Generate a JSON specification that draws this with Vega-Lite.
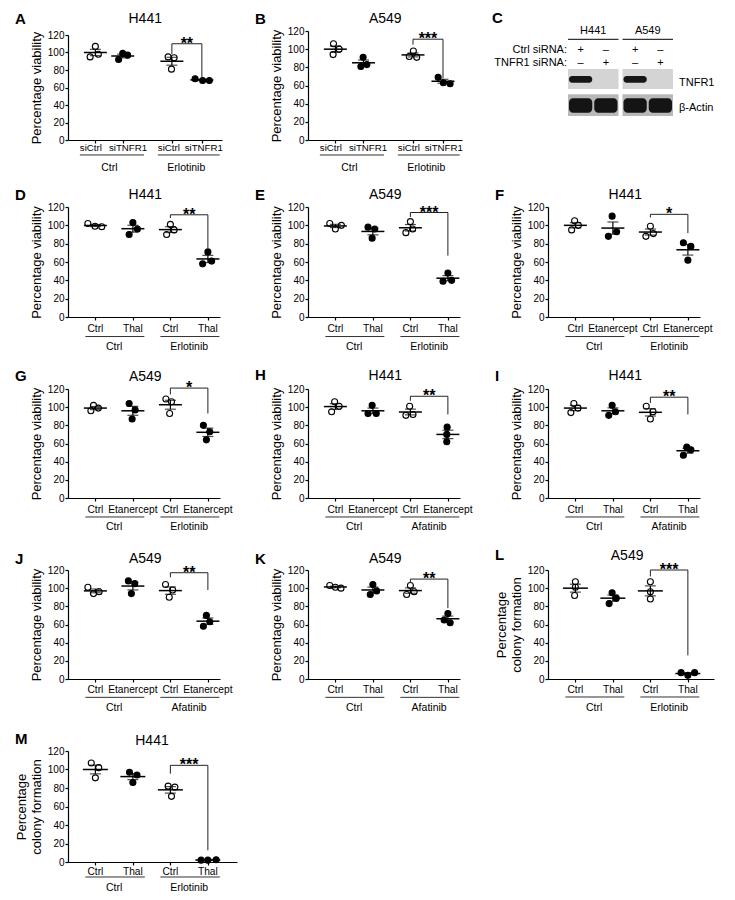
{
"$schema":"https://vega.github.io/schema/vega-lite/v6.json",
"background":"white",
"padding":{"left":15,"top":10,"right":5,"bottom":5},
"config":{
 "font":"Liberation Sans",
 "view":{"stroke":null},
 "axis":{"grid":false,"domainColor":"#000","domainWidth":1.2,"tickColor":"#000","tickWidth":1.2,"tickSize":3,"labelColor":"#000","labelFontSize":10,"labelPadding":1,"titleColor":"#000","titleFontSize":13,"titleFontWeight":"normal","titlePadding":4,"titleLineHeight":15},
 "text":{"fontSize":10.5,"color":"#000"}
},
"datasets":{
 "pts":[
  {"p":"A","pos":1,"a":"siCtrl","x":1.0,"v":107},{"p":"A","pos":1,"a":"siCtrl","x":0.86,"v":95},{"p":"A","pos":1,"a":"siCtrl","x":1.08,"v":98},
  {"p":"A","pos":1.73,"a":"siTNFR1","x":1.73,"v":99},{"p":"A","pos":1.73,"a":"siTNFR1","x":1.86,"v":97},{"p":"A","pos":1.73,"a":"siTNFR1","x":1.62,"v":92},
  {"p":"A","pos":3.04,"a":"siCtrl","x":2.94,"v":95},{"p":"A","pos":3.04,"a":"siCtrl","x":3.1,"v":94},{"p":"A","pos":3.04,"a":"siCtrl","x":3.03,"v":81},
  {"p":"A","pos":3.84,"a":"siTNFR1","x":3.66,"v":70},{"p":"A","pos":3.84,"a":"siTNFR1","x":3.86,"v":68},{"p":"A","pos":3.84,"a":"siTNFR1","x":4.04,"v":68},
  {"p":"B","pos":1,"a":"siCtrl","x":0.95,"v":106},{"p":"B","pos":1,"a":"siCtrl","x":1.1,"v":100},{"p":"B","pos":1,"a":"siCtrl","x":0.94,"v":94},
  {"p":"B","pos":1.75,"a":"siTNFR1","x":1.74,"v":91},{"p":"B","pos":1.75,"a":"siTNFR1","x":1.84,"v":83},{"p":"B","pos":1.75,"a":"siTNFR1","x":1.68,"v":81},
  {"p":"B","pos":3.07,"a":"siCtrl","x":3.08,"v":98},{"p":"B","pos":3.07,"a":"siCtrl","x":2.97,"v":92},{"p":"B","pos":3.07,"a":"siCtrl","x":3.17,"v":91},
  {"p":"B","pos":3.87,"a":"siTNFR1","x":3.74,"v":69},{"p":"B","pos":3.87,"a":"siTNFR1","x":3.88,"v":63},{"p":"B","pos":3.87,"a":"siTNFR1","x":4.06,"v":62},
  {"p":"D","pos":1,"a":"Ctrl","x":0.8,"v":102},{"p":"D","pos":1,"a":"Ctrl","x":0.99,"v":99},{"p":"D","pos":1,"a":"Ctrl","x":1.17,"v":98.5},
  {"p":"D","pos":2,"a":"Thal","x":2.0,"v":103},{"p":"D","pos":2,"a":"Thal","x":2.12,"v":96},{"p":"D","pos":2,"a":"Thal","x":1.9,"v":90},
  {"p":"D","pos":3,"a":"Ctrl","x":3.0,"v":101},{"p":"D","pos":3,"a":"Ctrl","x":2.9,"v":90},{"p":"D","pos":3,"a":"Ctrl","x":3.1,"v":95},
  {"p":"D","pos":4,"a":"Thal","x":4.0,"v":71},{"p":"D","pos":4,"a":"Thal","x":3.86,"v":58},{"p":"D","pos":4,"a":"Thal","x":4.1,"v":61},
  {"p":"E","pos":1,"a":"Ctrl","x":0.85,"v":102},{"p":"E","pos":1,"a":"Ctrl","x":1.0,"v":96},{"p":"E","pos":1,"a":"Ctrl","x":1.16,"v":100},
  {"p":"E","pos":2,"a":"Thal","x":1.87,"v":98},{"p":"E","pos":2,"a":"Thal","x":2.05,"v":96},{"p":"E","pos":2,"a":"Thal","x":1.98,"v":86},
  {"p":"E","pos":3,"a":"Ctrl","x":3.0,"v":104},{"p":"E","pos":3,"a":"Ctrl","x":2.88,"v":92},{"p":"E","pos":3,"a":"Ctrl","x":3.06,"v":96},
  {"p":"E","pos":4,"a":"Thal","x":4.0,"v":48},{"p":"E","pos":4,"a":"Thal","x":3.87,"v":39},{"p":"E","pos":4,"a":"Thal","x":4.1,"v":40},
  {"p":"F","pos":1,"a":"Ctrl","x":0.98,"v":105},{"p":"F","pos":1,"a":"Ctrl","x":0.9,"v":95},{"p":"F","pos":1,"a":"Ctrl","x":1.08,"v":100},
  {"p":"F","pos":2,"a":"Etanercept","x":1.98,"v":110},{"p":"F","pos":2,"a":"Etanercept","x":1.88,"v":88},{"p":"F","pos":2,"a":"Etanercept","x":2.1,"v":93},
  {"p":"F","pos":3,"a":"Ctrl","x":3.0,"v":99},{"p":"F","pos":3,"a":"Ctrl","x":2.88,"v":88},{"p":"F","pos":3,"a":"Ctrl","x":3.08,"v":91},
  {"p":"F","pos":4,"a":"Etanercept","x":3.88,"v":81},{"p":"F","pos":4,"a":"Etanercept","x":4.08,"v":77},{"p":"F","pos":4,"a":"Etanercept","x":4.0,"v":62},
  {"p":"G","pos":1,"a":"Ctrl","x":0.95,"v":102},{"p":"G","pos":1,"a":"Ctrl","x":1.08,"v":99},{"p":"G","pos":1,"a":"Ctrl","x":0.88,"v":96},
  {"p":"G","pos":2,"a":"Etanercept","x":1.9,"v":104},{"p":"G","pos":2,"a":"Etanercept","x":2.06,"v":97},{"p":"G","pos":2,"a":"Etanercept","x":1.98,"v":87},
  {"p":"G","pos":3,"a":"Ctrl","x":2.88,"v":109},{"p":"G","pos":3,"a":"Ctrl","x":3.03,"v":106},{"p":"G","pos":3,"a":"Ctrl","x":2.98,"v":93},
  {"p":"G","pos":4,"a":"Etanercept","x":3.88,"v":80},{"p":"G","pos":4,"a":"Etanercept","x":4.05,"v":73},{"p":"G","pos":4,"a":"Etanercept","x":3.96,"v":64},
  {"p":"H","pos":1,"a":"Ctrl","x":0.98,"v":106},{"p":"H","pos":1,"a":"Ctrl","x":1.1,"v":101},{"p":"H","pos":1,"a":"Ctrl","x":0.9,"v":95},
  {"p":"H","pos":2,"a":"Etanercept","x":1.98,"v":102},{"p":"H","pos":2,"a":"Etanercept","x":1.87,"v":93},{"p":"H","pos":2,"a":"Etanercept","x":2.09,"v":93},
  {"p":"H","pos":3,"a":"Ctrl","x":2.98,"v":101},{"p":"H","pos":3,"a":"Ctrl","x":2.88,"v":91},{"p":"H","pos":3,"a":"Ctrl","x":3.07,"v":92},
  {"p":"H","pos":4,"a":"Etanercept","x":3.98,"v":78},{"p":"H","pos":4,"a":"Etanercept","x":3.97,"v":70},{"p":"H","pos":4,"a":"Etanercept","x":3.97,"v":62},
  {"p":"I","pos":1,"a":"Ctrl","x":0.96,"v":104},{"p":"I","pos":1,"a":"Ctrl","x":0.88,"v":94},{"p":"I","pos":1,"a":"Ctrl","x":1.07,"v":99},
  {"p":"I","pos":2,"a":"Thal","x":1.98,"v":102},{"p":"I","pos":2,"a":"Thal","x":1.89,"v":91},{"p":"I","pos":2,"a":"Thal","x":2.07,"v":95},
  {"p":"I","pos":3,"a":"Ctrl","x":2.89,"v":101},{"p":"I","pos":3,"a":"Ctrl","x":3.0,"v":87},{"p":"I","pos":3,"a":"Ctrl","x":3.07,"v":95},
  {"p":"I","pos":4,"a":"Thal","x":3.97,"v":56},{"p":"I","pos":4,"a":"Thal","x":3.88,"v":47},{"p":"I","pos":4,"a":"Thal","x":4.08,"v":53},
  {"p":"J","pos":1,"a":"Ctrl","x":0.8,"v":101},{"p":"J","pos":1,"a":"Ctrl","x":0.95,"v":94},{"p":"J","pos":1,"a":"Ctrl","x":1.1,"v":96},
  {"p":"J","pos":2,"a":"Etanercept","x":1.88,"v":108},{"p":"J","pos":2,"a":"Etanercept","x":2.05,"v":105},{"p":"J","pos":2,"a":"Etanercept","x":1.96,"v":94},
  {"p":"J","pos":3,"a":"Ctrl","x":2.87,"v":104},{"p":"J","pos":3,"a":"Ctrl","x":3.06,"v":98},{"p":"J","pos":3,"a":"Ctrl","x":2.97,"v":90},
  {"p":"J","pos":4,"a":"Etanercept","x":3.96,"v":70},{"p":"J","pos":4,"a":"Etanercept","x":4.05,"v":63},{"p":"J","pos":4,"a":"Etanercept","x":3.88,"v":58},
  {"p":"K","pos":1,"a":"Ctrl","x":0.85,"v":103},{"p":"K","pos":1,"a":"Ctrl","x":1.0,"v":101},{"p":"K","pos":1,"a":"Ctrl","x":1.15,"v":100},
  {"p":"K","pos":2,"a":"Thal","x":2.0,"v":104},{"p":"K","pos":2,"a":"Thal","x":2.1,"v":97},{"p":"K","pos":2,"a":"Thal","x":1.93,"v":93},
  {"p":"K","pos":3,"a":"Ctrl","x":3.0,"v":103},{"p":"K","pos":3,"a":"Ctrl","x":3.1,"v":96},{"p":"K","pos":3,"a":"Ctrl","x":2.9,"v":93},
  {"p":"K","pos":4,"a":"Thal","x":4.0,"v":72},{"p":"K","pos":4,"a":"Thal","x":3.9,"v":65},{"p":"K","pos":4,"a":"Thal","x":4.06,"v":62},
  {"p":"L","pos":1,"a":"Ctrl","x":1.0,"v":107},{"p":"L","pos":1,"a":"Ctrl","x":1.0,"v":101},{"p":"L","pos":1,"a":"Ctrl","x":0.98,"v":92},
  {"p":"L","pos":2,"a":"Thal","x":1.98,"v":95},{"p":"L","pos":2,"a":"Thal","x":2.09,"v":89},{"p":"L","pos":2,"a":"Thal","x":1.9,"v":83},
  {"p":"L","pos":3,"a":"Ctrl","x":3.0,"v":107},{"p":"L","pos":3,"a":"Ctrl","x":3.0,"v":96},{"p":"L","pos":3,"a":"Ctrl","x":3.0,"v":88},
  {"p":"L","pos":4,"a":"Thal","x":3.82,"v":7},{"p":"L","pos":4,"a":"Thal","x":4.0,"v":4},{"p":"L","pos":4,"a":"Thal","x":4.18,"v":7},
  {"p":"M","pos":1,"a":"Ctrl","x":0.89,"v":107},{"p":"M","pos":1,"a":"Ctrl","x":1.09,"v":102},{"p":"M","pos":1,"a":"Ctrl","x":1.0,"v":91},
  {"p":"M","pos":2,"a":"Thal","x":1.91,"v":97},{"p":"M","pos":2,"a":"Thal","x":2.11,"v":94},{"p":"M","pos":2,"a":"Thal","x":2.0,"v":86},
  {"p":"M","pos":3,"a":"Ctrl","x":2.94,"v":82},{"p":"M","pos":3,"a":"Ctrl","x":3.12,"v":81},{"p":"M","pos":3,"a":"Ctrl","x":3.03,"v":71},
  {"p":"M","pos":4,"a":"Thal","x":3.82,"v":2},{"p":"M","pos":4,"a":"Thal","x":4.0,"v":2},{"p":"M","pos":4,"a":"Thal","x":4.22,"v":2.5}
 ],
 "cats":[
  {"p":"A","g":"Ctrl","a":"siCtrl","pos":0.88},{"p":"A","g":"Ctrl","a":"siTNFR1","pos":1.87},{"p":"A","g":"Erlotinib","a":"siCtrl","pos":2.96},{"p":"A","g":"Erlotinib","a":"siTNFR1","pos":3.89},
  {"p":"B","g":"Ctrl","a":"siCtrl","pos":0.88},{"p":"B","g":"Ctrl","a":"siTNFR1","pos":1.87},{"p":"B","g":"Erlotinib","a":"siCtrl","pos":2.96},{"p":"B","g":"Erlotinib","a":"siTNFR1","pos":3.89},
  {"p":"D","g":"Ctrl","a":"Ctrl","pos":1},{"p":"D","g":"Ctrl","a":"Thal","pos":2},{"p":"D","g":"Erlotinib","a":"Ctrl","pos":3},{"p":"D","g":"Erlotinib","a":"Thal","pos":4},
  {"p":"E","g":"Ctrl","a":"Ctrl","pos":1},{"p":"E","g":"Ctrl","a":"Thal","pos":2},{"p":"E","g":"Erlotinib","a":"Ctrl","pos":3},{"p":"E","g":"Erlotinib","a":"Thal","pos":4},
  {"p":"F","g":"Ctrl","a":"Ctrl","pos":1},{"p":"F","g":"Ctrl","a":"Etanercept","pos":2},{"p":"F","g":"Erlotinib","a":"Ctrl","pos":3},{"p":"F","g":"Erlotinib","a":"Etanercept","pos":4},
  {"p":"G","g":"Ctrl","a":"Ctrl","pos":1},{"p":"G","g":"Ctrl","a":"Etanercept","pos":2},{"p":"G","g":"Erlotinib","a":"Ctrl","pos":3},{"p":"G","g":"Erlotinib","a":"Etanercept","pos":4},
  {"p":"H","g":"Ctrl","a":"Ctrl","pos":1},{"p":"H","g":"Ctrl","a":"Etanercept","pos":2},{"p":"H","g":"Afatinib","a":"Ctrl","pos":3},{"p":"H","g":"Afatinib","a":"Etanercept","pos":4},
  {"p":"I","g":"Ctrl","a":"Ctrl","pos":1},{"p":"I","g":"Ctrl","a":"Thal","pos":2},{"p":"I","g":"Afatinib","a":"Ctrl","pos":3},{"p":"I","g":"Afatinib","a":"Thal","pos":4},
  {"p":"J","g":"Ctrl","a":"Ctrl","pos":1},{"p":"J","g":"Ctrl","a":"Etanercept","pos":2},{"p":"J","g":"Afatinib","a":"Ctrl","pos":3},{"p":"J","g":"Afatinib","a":"Etanercept","pos":4},
  {"p":"K","g":"Ctrl","a":"Ctrl","pos":1},{"p":"K","g":"Ctrl","a":"Thal","pos":2},{"p":"K","g":"Afatinib","a":"Ctrl","pos":3},{"p":"K","g":"Afatinib","a":"Thal","pos":4},
  {"p":"L","g":"Ctrl","a":"Ctrl","pos":1},{"p":"L","g":"Ctrl","a":"Thal","pos":2},{"p":"L","g":"Erlotinib","a":"Ctrl","pos":3},{"p":"L","g":"Erlotinib","a":"Thal","pos":4},
  {"p":"M","g":"Ctrl","a":"Ctrl","pos":1},{"p":"M","g":"Ctrl","a":"Thal","pos":2},{"p":"M","g":"Erlotinib","a":"Ctrl","pos":3},{"p":"M","g":"Erlotinib","a":"Thal","pos":4}
 ],
 "sig":[
  {"p":"A","x1":3.04,"x2":3.84,"top":110,"l":98,"r":70,"s":"**"},
  {"p":"B","x1":3.07,"x2":3.87,"top":111,"l":105,"r":68,"s":"***"},
  {"p":"D","x1":3,"x2":4,"top":111.5,"l":108,"r":75,"s":"**"},
  {"p":"E","x1":3,"x2":4,"top":114,"l":109,"r":67,"s":"***"},
  {"p":"F","x1":3,"x2":4,"top":112,"l":108.5,"r":91.5,"s":"*"},
  {"p":"G","x1":3,"x2":4,"top":121,"l":114,"r":93,"s":"*"},
  {"p":"H","x1":3,"x2":4,"top":112,"l":107,"r":92,"s":"**"},
  {"p":"I","x1":3,"x2":4,"top":111,"l":104.5,"r":92,"s":"**"},
  {"p":"J","x1":3,"x2":4,"top":117,"l":112,"r":98,"s":"**"},
  {"p":"K","x1":3,"x2":4,"top":110,"l":106,"r":78,"s":"**"},
  {"p":"L","x1":3,"x2":4,"top":120,"l":113,"r":26,"s":"***"},
  {"p":"M","x1":3,"x2":4,"top":104.5,"l":95.5,"r":12.6,"s":"***"}
 ],
 "lines":[{"line":"H441"},{"line":"A549"}],
 "bands":[
  {"line":"H441","si":"Ctrl","prot":"TNFR1","sig":1},{"line":"H441","si":"TNFR1","prot":"TNFR1","sig":0},
  {"line":"A549","si":"Ctrl","prot":"TNFR1","sig":1},{"line":"A549","si":"TNFR1","prot":"TNFR1","sig":0},
  {"line":"H441","si":"Ctrl","prot":"β-Actin","sig":1},{"line":"H441","si":"TNFR1","prot":"β-Actin","sig":1},
  {"line":"A549","si":"Ctrl","prot":"β-Actin","sig":1},{"line":"A549","si":"TNFR1","prot":"β-Actin","sig":1}
 ]
},
"spacing":13,
"vconcat":[
 {"hconcat":[
  {"width":154,"height":105,"resolve":{"axis":{"x":"independent","y":"independent"}},
   "layer":[
    {"data":{"name":"pts"},"transform":[{"filter":"datum.p==='A'"}],"mark":{"type":"point","shape":"circle","size":36,"stroke":"#000","strokeWidth":1.1,"opacity":1},
     "encoding":{"x":{"field":"x","type":"quantitative","scale":{"domain":[0.27,4.377],"nice":false,"zero":false},"axis":{"title":null,"labels":false,"values":[1,1.73,3.04,3.84]}},
      "y":{"field":"v","type":"quantitative","scale":{"domain":[0,120],"nice":false},"axis":{"title":"Percentage viability","values":[0,20,40,60,80,100,120]}},
      "fill":{"condition":{"test":"datum.a==='Ctrl'||datum.a==='siCtrl'","value":"#fff"},"value":"#000"}}},
    {"data":{"name":"pts"},"transform":[{"filter":"datum.p==='A'"}],"mark":{"type":"errorbar","extent":"stderr","orient":"vertical","color":"#000","ticks":{"size":11,"thickness":1.2},"rule":{"strokeWidth":1.2}},
     "encoding":{"x":{"field":"pos","type":"quantitative","axis":null},"y":{"field":"v","type":"quantitative","axis":null}}},
    {"data":{"name":"pts"},"transform":[{"filter":"datum.p==='A'"}],"mark":{"type":"tick","orient":"horizontal","size":23,"thickness":1.5,"color":"#000"},
     "encoding":{"x":{"field":"pos","type":"quantitative","axis":null},"y":{"aggregate":"mean","field":"v","type":"quantitative","axis":null}}},
    {"data":{"name":"sig"},"transform":[{"filter":"datum.p==='A'"}],"mark":{"type":"rule","color":"#222","strokeWidth":1},
     "encoding":{"x":{"field":"x1","type":"quantitative","axis":null},"x2":{"field":"x2"},"y":{"field":"top","type":"quantitative","axis":null}}},
    {"data":{"name":"sig"},"transform":[{"filter":"datum.p==='A'"}],"mark":{"type":"rule","color":"#222","strokeWidth":1},
     "encoding":{"x":{"field":"x1","type":"quantitative","axis":null},"y":{"field":"top","type":"quantitative","axis":null},"y2":{"field":"l"}}},
    {"data":{"name":"sig"},"transform":[{"filter":"datum.p==='A'"}],"mark":{"type":"rule","color":"#222","strokeWidth":1},
     "encoding":{"x":{"field":"x2","type":"quantitative","axis":null},"y":{"field":"top","type":"quantitative","axis":null},"y2":{"field":"r"}}},
    {"data":{"name":"sig"},"transform":[{"filter":"datum.p==='A'"}],"mark":{"type":"text","fontSize":16,"fontWeight":"bold","baseline":"alphabetic","dx":15,"dy":5},
     "encoding":{"x":{"field":"x1","type":"quantitative","axis":null},"y":{"field":"top","type":"quantitative","axis":null},"text":{"field":"s"}}},
    {"data":{"name":"cats"},"transform":[{"filter":"datum.p==='A'"}],"mark":{"type":"text","baseline":"alphabetic","dy":10.7,"fontSize":9.7},
     "encoding":{"x":{"field":"pos","type":"quantitative","axis":null},"y":{"datum":0,"axis":null},"text":{"field":"a"}}},
    {"data":{"name":"cats"},"transform":[{"filter":"datum.p==='A'"}],"mark":{"type":"rule","color":"#333","strokeWidth":1,"xOffset":-11,"x2Offset":16},
     "encoding":{"x":{"aggregate":"min","field":"pos","type":"quantitative","axis":null},"x2":{"aggregate":"max","field":"pos"},"y":{"datum":-17.1,"axis":null},"detail":{"field":"g"}}},
    {"data":{"name":"cats"},"transform":[{"filter":"datum.p==='A'"}],"mark":{"type":"text","baseline":"alphabetic","dy":31.4},
     "encoding":{"x":{"aggregate":"mean","field":"pos","type":"quantitative","axis":null},"y":{"datum":0,"axis":null},"text":{"field":"g"}}},
    {"data":{"values":[{"letter":"A"}]},"mark":{"type":"text","fontSize":15,"fontWeight":"bold","align":"left","baseline":"alphabetic","dx":-53,"dy":-10.7},
     "encoding":{"x":{"datum":0.27,"axis":null},"y":{"datum":120,"axis":null},"text":{"field":"letter"}}},
    {"data":{"values":[{"t":"H441"}]},"mark":{"type":"text","fontSize":14,"baseline":"alphabetic","dy":-12.3},
     "encoding":{"x":{"datum":2.33,"axis":null},"y":{"datum":120,"axis":null},"text":{"field":"t"}}}
   ]},
  {"width":154,"height":105,"resolve":{"axis":{"x":"independent","y":"independent"}},
   "layer":[
    {"data":{"name":"pts"},"transform":[{"filter":"datum.p==='B'"}],"mark":{"type":"point","shape":"circle","size":36,"stroke":"#000","strokeWidth":1.1,"opacity":1},
     "encoding":{"x":{"field":"x","type":"quantitative","scale":{"domain":[0.27,4.377],"nice":false,"zero":false},"axis":{"title":null,"labels":false,"values":[1,1.75,3.07,3.87]}},
      "y":{"field":"v","type":"quantitative","scale":{"domain":[0,120],"nice":false,"range":[105,-4]},"axis":{"title":"Percentage viability","values":[0,20,40,60,80,100,120]}},
      "fill":{"condition":{"test":"datum.a==='Ctrl'||datum.a==='siCtrl'","value":"#fff"},"value":"#000"}}},
    {"data":{"name":"pts"},"transform":[{"filter":"datum.p==='B'"}],"mark":{"type":"errorbar","extent":"stderr","orient":"vertical","color":"#000","ticks":{"size":11,"thickness":1.2},"rule":{"strokeWidth":1.2}},
     "encoding":{"x":{"field":"pos","type":"quantitative","axis":null},"y":{"field":"v","type":"quantitative","axis":null}}},
    {"data":{"name":"pts"},"transform":[{"filter":"datum.p==='B'"}],"mark":{"type":"tick","orient":"horizontal","size":23,"thickness":1.5,"color":"#000"},
     "encoding":{"x":{"field":"pos","type":"quantitative","axis":null},"y":{"aggregate":"mean","field":"v","type":"quantitative","axis":null}}},
    {"data":{"name":"sig"},"transform":[{"filter":"datum.p==='B'"}],"mark":{"type":"rule","color":"#222","strokeWidth":1},
     "encoding":{"x":{"field":"x1","type":"quantitative","axis":null},"x2":{"field":"x2"},"y":{"field":"top","type":"quantitative","axis":null}}},
    {"data":{"name":"sig"},"transform":[{"filter":"datum.p==='B'"}],"mark":{"type":"rule","color":"#222","strokeWidth":1},
     "encoding":{"x":{"field":"x1","type":"quantitative","axis":null},"y":{"field":"top","type":"quantitative","axis":null},"y2":{"field":"l"}}},
    {"data":{"name":"sig"},"transform":[{"filter":"datum.p==='B'"}],"mark":{"type":"rule","color":"#222","strokeWidth":1},
     "encoding":{"x":{"field":"x2","type":"quantitative","axis":null},"y":{"field":"top","type":"quantitative","axis":null},"y2":{"field":"r"}}},
    {"data":{"name":"sig"},"transform":[{"filter":"datum.p==='B'"}],"mark":{"type":"text","fontSize":16,"fontWeight":"bold","baseline":"alphabetic","dx":15,"dy":5},
     "encoding":{"x":{"field":"x1","type":"quantitative","axis":null},"y":{"field":"top","type":"quantitative","axis":null},"text":{"field":"s"}}},
    {"data":{"name":"cats"},"transform":[{"filter":"datum.p==='B'"}],"mark":{"type":"text","baseline":"alphabetic","dy":10.7,"fontSize":9.7},
     "encoding":{"x":{"field":"pos","type":"quantitative","axis":null},"y":{"datum":0,"axis":null},"text":{"field":"a"}}},
    {"data":{"name":"cats"},"transform":[{"filter":"datum.p==='B'"}],"mark":{"type":"rule","color":"#333","strokeWidth":1,"xOffset":-11,"x2Offset":16},
     "encoding":{"x":{"aggregate":"min","field":"pos","type":"quantitative","axis":null},"x2":{"aggregate":"max","field":"pos"},"y":{"datum":-16.5,"axis":null},"detail":{"field":"g"}}},
    {"data":{"name":"cats"},"transform":[{"filter":"datum.p==='B'"}],"mark":{"type":"text","baseline":"alphabetic","dy":31.4},
     "encoding":{"x":{"aggregate":"mean","field":"pos","type":"quantitative","axis":null},"y":{"datum":0,"axis":null},"text":{"field":"g"}}},
    {"data":{"values":[{"letter":"B"}]},"mark":{"type":"text","fontSize":15,"fontWeight":"bold","align":"left","baseline":"alphabetic","dx":-53,"dy":-7.3},
     "encoding":{"x":{"datum":0.27,"axis":null},"y":{"datum":120,"axis":null},"text":{"field":"letter"}}},
    {"data":{"values":[{"t":"A549"}]},"mark":{"type":"text","fontSize":14,"baseline":"alphabetic","dy":-8.3},
     "encoding":{"x":{"datum":2.33,"axis":null},"y":{"datum":120,"axis":null},"text":{"field":"t"}}}
   ]},
  {"width":125,"height":105,
   "layer":[
    {"data":{"name":"lines"},"mark":{"type":"rect","color":"#d4d4d4"},
     "encoding":{"x":{"field":"line","type":"nominal","scale":{"type":"band","domain":["H441","A549"],"range":[20,125],"paddingInner":0.073,"paddingOuter":0},"axis":null},
      "y":{"datum":3.4,"scale":{"domain":[0,10.5],"reverse":true,"nice":false,"zero":false},"axis":null},"y2":{"datum":5.4}}},
    {"data":{"name":"lines"},"mark":{"type":"rect","color":"#b8b8b8"},
     "encoding":{"x":{"field":"line","type":"nominal","axis":null},"y":{"datum":5.93,"axis":null},"y2":{"datum":8.1}}},
    {"data":{"name":"lines"},"mark":{"type":"rect","color":"#333"},
     "encoding":{"x":{"field":"line","type":"nominal","axis":null},"y":{"datum":0.37,"axis":null},"y2":{"datum":0.49}}},
    {"data":{"name":"lines"},"mark":{"type":"text","fontSize":11,"baseline":"alphabetic"},
     "encoding":{"x":{"field":"line","type":"nominal","axis":null},"y":{"datum":-0.07,"axis":null},"text":{"field":"line"}}},
    {"data":{"name":"bands"},"transform":[{"filter":"datum.prot==='TNFR1'"}],"mark":{"type":"rect","color":"#161616","cornerRadius":3},
     "encoding":{"x":{"field":"line","type":"nominal","axis":null},"xOffset":{"field":"si","type":"nominal","scale":{"domain":["Ctrl","TNFR1"],"paddingInner":0.08,"paddingOuter":0.04}},
      "y":{"datum":4.1,"axis":null},"y2":{"datum":4.77},"opacity":{"field":"sig","type":"quantitative","scale":{"domain":[0,1],"range":[0,1]},"legend":null}}},
    {"data":{"name":"bands"},"transform":[{"filter":"datum.prot==='β-Actin'"}],"mark":{"type":"rect","color":"#141414","cornerRadius":4},
     "encoding":{"x":{"field":"line","type":"nominal","axis":null},"xOffset":{"field":"si","type":"nominal"},
      "y":{"datum":6.33,"axis":null},"y2":{"datum":7.77},"opacity":{"field":"sig","type":"quantitative","legend":null}}},
    {"data":{"name":"bands"},"transform":[{"filter":"datum.prot==='TNFR1'"}],"mark":{"type":"text","fontSize":11,"baseline":"alphabetic"},
     "encoding":{"x":{"field":"line","type":"nominal","axis":null},"xOffset":{"field":"si","type":"nominal"},"y":{"datum":1.77,"axis":null},
      "text":{"condition":{"test":"datum.si==='Ctrl'","value":"+"},"value":"–"}}},
    {"data":{"name":"bands"},"transform":[{"filter":"datum.prot==='TNFR1'"}],"mark":{"type":"text","fontSize":11,"baseline":"alphabetic"},
     "encoding":{"x":{"field":"line","type":"nominal","axis":null},"xOffset":{"field":"si","type":"nominal"},"y":{"datum":3.1,"axis":null},
      "text":{"condition":{"test":"datum.si==='TNFR1'","value":"+"},"value":"–"}}},
    {"data":{"values":[{"t":"Ctrl siRNA:"}]},"mark":{"type":"text","fontSize":11,"align":"right","baseline":"alphabetic","dx":-1},
     "encoding":{"x":{"datum":"H441","type":"nominal","bandPosition":0,"axis":null},"y":{"datum":1.77,"axis":null},"text":{"field":"t"}}},
    {"data":{"values":[{"t":"TNFR1 siRNA:"}]},"mark":{"type":"text","fontSize":11,"align":"right","baseline":"alphabetic","dx":-1},
     "encoding":{"x":{"datum":"H441","type":"nominal","bandPosition":0,"axis":null},"y":{"datum":3.1,"axis":null},"text":{"field":"t"}}},
    {"data":{"values":[{"t":"TNFR1"}]},"mark":{"type":"text","fontSize":11,"align":"left","baseline":"alphabetic","dx":6},
     "encoding":{"x":{"datum":"A549","type":"nominal","bandPosition":1,"axis":null},"y":{"datum":5.1,"axis":null},"text":{"field":"t"}}},
    {"data":{"values":[{"t":"β-Actin"}]},"mark":{"type":"text","fontSize":11,"align":"left","baseline":"alphabetic","dx":6},
     "encoding":{"x":{"datum":"A549","type":"nominal","bandPosition":1,"axis":null},"y":{"datum":7.6,"axis":null},"text":{"field":"t"}}},
    {"data":{"values":[{"letter":"C"}]},"mark":{"type":"text","fontSize":15,"fontWeight":"bold","align":"left","baseline":"alphabetic","dx":-76},
     "encoding":{"x":{"datum":"H441","type":"nominal","bandPosition":0,"axis":null},"y":{"datum":-1.23,"axis":null},"text":{"field":"letter"}}}
   ]}
 ],"spacing":86,"bounds":"flush"},
 {"concat":[
  {"width":152,"height":110,"resolve":{"axis":{"x":"independent","y":"independent"}},
   "layer":[
    {"data":{"name":"pts"},"transform":[{"filter":"datum.p==='D'"}],"mark":{"type":"point","shape":"circle","size":36,"stroke":"#000","strokeWidth":1.1,"opacity":1},
     "encoding":{"x":{"field":"x","type":"quantitative","scale":{"domain":[0.27,4.323],"nice":false,"zero":false},"axis":{"title":null,"labels":false,"values":[1,2,3,4]}},
      "y":{"field":"v","type":"quantitative","scale":{"domain":[0,120],"nice":false},"axis":{"title":"Percentage viability","values":[0,20,40,60,80,100,120]}},
      "fill":{"condition":{"test":"datum.a==='Ctrl'||datum.a==='siCtrl'","value":"#fff"},"value":"#000"}}},
    {"data":{"name":"pts"},"transform":[{"filter":"datum.p==='D'"}],"mark":{"type":"errorbar","extent":"stderr","orient":"vertical","color":"#000","ticks":{"size":11,"thickness":1.2},"rule":{"strokeWidth":1.2}},
     "encoding":{"x":{"field":"pos","type":"quantitative","axis":null},"y":{"field":"v","type":"quantitative","axis":null}}},
    {"data":{"name":"pts"},"transform":[{"filter":"datum.p==='D'"}],"mark":{"type":"tick","orient":"horizontal","size":23,"thickness":1.5,"color":"#000"},
     "encoding":{"x":{"field":"pos","type":"quantitative","axis":null},"y":{"aggregate":"mean","field":"v","type":"quantitative","axis":null}}},
    {"data":{"name":"sig"},"transform":[{"filter":"datum.p==='D'"}],"mark":{"type":"rule","color":"#222","strokeWidth":1},
     "encoding":{"x":{"field":"x1","type":"quantitative","axis":null},"x2":{"field":"x2"},"y":{"field":"top","type":"quantitative","axis":null}}},
    {"data":{"name":"sig"},"transform":[{"filter":"datum.p==='D'"}],"mark":{"type":"rule","color":"#222","strokeWidth":1},
     "encoding":{"x":{"field":"x1","type":"quantitative","axis":null},"y":{"field":"top","type":"quantitative","axis":null},"y2":{"field":"l"}}},
    {"data":{"name":"sig"},"transform":[{"filter":"datum.p==='D'"}],"mark":{"type":"rule","color":"#222","strokeWidth":1},
     "encoding":{"x":{"field":"x2","type":"quantitative","axis":null},"y":{"field":"top","type":"quantitative","axis":null},"y2":{"field":"r"}}},
    {"data":{"name":"sig"},"transform":[{"filter":"datum.p==='D'"}],"mark":{"type":"text","fontSize":16,"fontWeight":"bold","baseline":"alphabetic","dx":18.75,"dy":5},
     "encoding":{"x":{"field":"x1","type":"quantitative","axis":null},"y":{"field":"top","type":"quantitative","axis":null},"text":{"field":"s"}}},
    {"data":{"name":"cats"},"transform":[{"filter":"datum.p==='D'"}],"mark":{"type":"text","baseline":"alphabetic","dy":14.8,"fontSize":10.2},
     "encoding":{"x":{"field":"pos","type":"quantitative","axis":null},"y":{"datum":0,"axis":null},"text":{"field":"a"}}},
    {"data":{"name":"cats"},"transform":[{"filter":"datum.p==='D'"}],"mark":{"type":"rule","color":"#333","strokeWidth":1,"xOffset":-10,"x2Offset":11.5},
     "encoding":{"x":{"aggregate":"min","field":"pos","type":"quantitative","axis":null},"x2":{"aggregate":"max","field":"pos"},"y":{"datum":-21.3,"axis":null},"detail":{"field":"g"}}},
    {"data":{"name":"cats"},"transform":[{"filter":"datum.p==='D'"}],"mark":{"type":"text","baseline":"alphabetic","dy":33.4},
     "encoding":{"x":{"aggregate":"mean","field":"pos","type":"quantitative","axis":null},"y":{"datum":0,"axis":null},"text":{"field":"g"}}},
    {"data":{"values":[{"letter":"D"}]},"mark":{"type":"text","fontSize":15,"fontWeight":"bold","align":"left","baseline":"alphabetic","dx":-53,"dy":-6.7},
     "encoding":{"x":{"datum":0.27,"axis":null},"y":{"datum":120,"axis":null},"text":{"field":"letter"}}},
    {"data":{"values":[{"t":"H441"}]},"mark":{"type":"text","fontSize":14,"baseline":"alphabetic","dy":-8.3},
     "encoding":{"x":{"datum":2.33,"axis":null},"y":{"datum":120,"axis":null},"text":{"field":"t"}}}
   ]},
  {"width":152,"height":110,"resolve":{"axis":{"x":"independent","y":"independent"}},
   "layer":[
    {"data":{"name":"pts"},"transform":[{"filter":"datum.p==='E'"}],"mark":{"type":"point","shape":"circle","size":36,"stroke":"#000","strokeWidth":1.1,"opacity":1},
     "encoding":{"x":{"field":"x","type":"quantitative","scale":{"domain":[0.27,4.323],"nice":false,"zero":false},"axis":{"title":null,"labels":false,"values":[1,2,3,4]}},
      "y":{"field":"v","type":"quantitative","scale":{"domain":[0,120],"nice":false},"axis":{"title":"Percentage viability","values":[0,20,40,60,80,100,120]}},
      "fill":{"condition":{"test":"datum.a==='Ctrl'||datum.a==='siCtrl'","value":"#fff"},"value":"#000"}}},
    {"data":{"name":"pts"},"transform":[{"filter":"datum.p==='E'"}],"mark":{"type":"errorbar","extent":"stderr","orient":"vertical","color":"#000","ticks":{"size":11,"thickness":1.2},"rule":{"strokeWidth":1.2}},
     "encoding":{"x":{"field":"pos","type":"quantitative","axis":null},"y":{"field":"v","type":"quantitative","axis":null}}},
    {"data":{"name":"pts"},"transform":[{"filter":"datum.p==='E'"}],"mark":{"type":"tick","orient":"horizontal","size":23,"thickness":1.5,"color":"#000"},
     "encoding":{"x":{"field":"pos","type":"quantitative","axis":null},"y":{"aggregate":"mean","field":"v","type":"quantitative","axis":null}}},
    {"data":{"name":"sig"},"transform":[{"filter":"datum.p==='E'"}],"mark":{"type":"rule","color":"#222","strokeWidth":1},
     "encoding":{"x":{"field":"x1","type":"quantitative","axis":null},"x2":{"field":"x2"},"y":{"field":"top","type":"quantitative","axis":null}}},
    {"data":{"name":"sig"},"transform":[{"filter":"datum.p==='E'"}],"mark":{"type":"rule","color":"#222","strokeWidth":1},
     "encoding":{"x":{"field":"x1","type":"quantitative","axis":null},"y":{"field":"top","type":"quantitative","axis":null},"y2":{"field":"l"}}},
    {"data":{"name":"sig"},"transform":[{"filter":"datum.p==='E'"}],"mark":{"type":"rule","color":"#222","strokeWidth":1},
     "encoding":{"x":{"field":"x2","type":"quantitative","axis":null},"y":{"field":"top","type":"quantitative","axis":null},"y2":{"field":"r"}}},
    {"data":{"name":"sig"},"transform":[{"filter":"datum.p==='E'"}],"mark":{"type":"text","fontSize":16,"fontWeight":"bold","baseline":"alphabetic","dx":18.75,"dy":5},
     "encoding":{"x":{"field":"x1","type":"quantitative","axis":null},"y":{"field":"top","type":"quantitative","axis":null},"text":{"field":"s"}}},
    {"data":{"name":"cats"},"transform":[{"filter":"datum.p==='E'"}],"mark":{"type":"text","baseline":"alphabetic","dy":14.8,"fontSize":10.2},
     "encoding":{"x":{"field":"pos","type":"quantitative","axis":null},"y":{"datum":0,"axis":null},"text":{"field":"a"}}},
    {"data":{"name":"cats"},"transform":[{"filter":"datum.p==='E'"}],"mark":{"type":"rule","color":"#333","strokeWidth":1,"xOffset":-10,"x2Offset":11.5},
     "encoding":{"x":{"aggregate":"min","field":"pos","type":"quantitative","axis":null},"x2":{"aggregate":"max","field":"pos"},"y":{"datum":-21.3,"axis":null},"detail":{"field":"g"}}},
    {"data":{"name":"cats"},"transform":[{"filter":"datum.p==='E'"}],"mark":{"type":"text","baseline":"alphabetic","dy":33.4},
     "encoding":{"x":{"aggregate":"mean","field":"pos","type":"quantitative","axis":null},"y":{"datum":0,"axis":null},"text":{"field":"g"}}},
    {"data":{"values":[{"letter":"E"}]},"mark":{"type":"text","fontSize":15,"fontWeight":"bold","align":"left","baseline":"alphabetic","dx":-53,"dy":-6.7},
     "encoding":{"x":{"datum":0.27,"axis":null},"y":{"datum":120,"axis":null},"text":{"field":"letter"}}},
    {"data":{"values":[{"t":"A549"}]},"mark":{"type":"text","fontSize":14,"baseline":"alphabetic","dy":-7.7},
     "encoding":{"x":{"datum":2.33,"axis":null},"y":{"datum":120,"axis":null},"text":{"field":"t"}}}
   ]},
  {"width":152,"height":110,"resolve":{"axis":{"x":"independent","y":"independent"}},
   "layer":[
    {"data":{"name":"pts"},"transform":[{"filter":"datum.p==='F'"}],"mark":{"type":"point","shape":"circle","size":36,"stroke":"#000","strokeWidth":1.1,"opacity":1},
     "encoding":{"x":{"field":"x","type":"quantitative","scale":{"domain":[0.27,4.323],"nice":false,"zero":false},"axis":{"title":null,"labels":false,"values":[1,2,3,4]}},
      "y":{"field":"v","type":"quantitative","scale":{"domain":[0,120],"nice":false},"axis":{"title":"Percentage viability","values":[0,20,40,60,80,100,120]}},
      "fill":{"condition":{"test":"datum.a==='Ctrl'||datum.a==='siCtrl'","value":"#fff"},"value":"#000"}}},
    {"data":{"name":"pts"},"transform":[{"filter":"datum.p==='F'"}],"mark":{"type":"errorbar","extent":"stderr","orient":"vertical","color":"#000","ticks":{"size":11,"thickness":1.2},"rule":{"strokeWidth":1.2}},
     "encoding":{"x":{"field":"pos","type":"quantitative","axis":null},"y":{"field":"v","type":"quantitative","axis":null}}},
    {"data":{"name":"pts"},"transform":[{"filter":"datum.p==='F'"}],"mark":{"type":"tick","orient":"horizontal","size":23,"thickness":1.5,"color":"#000"},
     "encoding":{"x":{"field":"pos","type":"quantitative","axis":null},"y":{"aggregate":"mean","field":"v","type":"quantitative","axis":null}}},
    {"data":{"name":"sig"},"transform":[{"filter":"datum.p==='F'"}],"mark":{"type":"rule","color":"#222","strokeWidth":1},
     "encoding":{"x":{"field":"x1","type":"quantitative","axis":null},"x2":{"field":"x2"},"y":{"field":"top","type":"quantitative","axis":null}}},
    {"data":{"name":"sig"},"transform":[{"filter":"datum.p==='F'"}],"mark":{"type":"rule","color":"#222","strokeWidth":1},
     "encoding":{"x":{"field":"x1","type":"quantitative","axis":null},"y":{"field":"top","type":"quantitative","axis":null},"y2":{"field":"l"}}},
    {"data":{"name":"sig"},"transform":[{"filter":"datum.p==='F'"}],"mark":{"type":"rule","color":"#222","strokeWidth":1},
     "encoding":{"x":{"field":"x2","type":"quantitative","axis":null},"y":{"field":"top","type":"quantitative","axis":null},"y2":{"field":"r"}}},
    {"data":{"name":"sig"},"transform":[{"filter":"datum.p==='F'"}],"mark":{"type":"text","fontSize":16,"fontWeight":"bold","baseline":"alphabetic","dx":18.75,"dy":5},
     "encoding":{"x":{"field":"x1","type":"quantitative","axis":null},"y":{"field":"top","type":"quantitative","axis":null},"text":{"field":"s"}}},
    {"data":{"name":"cats"},"transform":[{"filter":"datum.p==='F'"}],"mark":{"type":"text","baseline":"alphabetic","dy":14.8,"fontSize":10.2},
     "encoding":{"x":{"field":"pos","type":"quantitative","axis":null},"y":{"datum":0,"axis":null},"text":{"field":"a"}}},
    {"data":{"name":"cats"},"transform":[{"filter":"datum.p==='F'"}],"mark":{"type":"rule","color":"#333","strokeWidth":1,"xOffset":-10,"x2Offset":11.5},
     "encoding":{"x":{"aggregate":"min","field":"pos","type":"quantitative","axis":null},"x2":{"aggregate":"max","field":"pos"},"y":{"datum":-21.3,"axis":null},"detail":{"field":"g"}}},
    {"data":{"name":"cats"},"transform":[{"filter":"datum.p==='F'"}],"mark":{"type":"text","baseline":"alphabetic","dy":33.4},
     "encoding":{"x":{"aggregate":"mean","field":"pos","type":"quantitative","axis":null},"y":{"datum":0,"axis":null},"text":{"field":"g"}}},
    {"data":{"values":[{"letter":"F"}]},"mark":{"type":"text","fontSize":15,"fontWeight":"bold","align":"left","baseline":"alphabetic","dx":-53,"dy":-6.7},
     "encoding":{"x":{"datum":0.27,"axis":null},"y":{"datum":120,"axis":null},"text":{"field":"letter"}}},
    {"data":{"values":[{"t":"H441"}]},"mark":{"type":"text","fontSize":14,"baseline":"alphabetic","dy":-8.3},
     "encoding":{"x":{"datum":2.33,"axis":null},"y":{"datum":120,"axis":null},"text":{"field":"t"}}}
   ]},
  {"width":152,"height":109,"resolve":{"axis":{"x":"independent","y":"independent"}},
   "layer":[
    {"data":{"name":"pts"},"transform":[{"filter":"datum.p==='G'"}],"mark":{"type":"point","shape":"circle","size":36,"stroke":"#000","strokeWidth":1.1,"opacity":1},
     "encoding":{"x":{"field":"x","type":"quantitative","scale":{"domain":[0.27,4.323],"nice":false,"zero":false},"axis":{"title":null,"labels":false,"values":[1,2,3,4]}},
      "y":{"field":"v","type":"quantitative","scale":{"domain":[0,120],"nice":false},"axis":{"title":"Percentage viability","values":[0,20,40,60,80,100,120]}},
      "fill":{"condition":{"test":"datum.a==='Ctrl'||datum.a==='siCtrl'","value":"#fff"},"value":"#000"}}},
    {"data":{"name":"pts"},"transform":[{"filter":"datum.p==='G'"}],"mark":{"type":"errorbar","extent":"stderr","orient":"vertical","color":"#000","ticks":{"size":11,"thickness":1.2},"rule":{"strokeWidth":1.2}},
     "encoding":{"x":{"field":"pos","type":"quantitative","axis":null},"y":{"field":"v","type":"quantitative","axis":null}}},
    {"data":{"name":"pts"},"transform":[{"filter":"datum.p==='G'"}],"mark":{"type":"tick","orient":"horizontal","size":23,"thickness":1.5,"color":"#000"},
     "encoding":{"x":{"field":"pos","type":"quantitative","axis":null},"y":{"aggregate":"mean","field":"v","type":"quantitative","axis":null}}},
    {"data":{"name":"sig"},"transform":[{"filter":"datum.p==='G'"}],"mark":{"type":"rule","color":"#222","strokeWidth":1},
     "encoding":{"x":{"field":"x1","type":"quantitative","axis":null},"x2":{"field":"x2"},"y":{"field":"top","type":"quantitative","axis":null}}},
    {"data":{"name":"sig"},"transform":[{"filter":"datum.p==='G'"}],"mark":{"type":"rule","color":"#222","strokeWidth":1},
     "encoding":{"x":{"field":"x1","type":"quantitative","axis":null},"y":{"field":"top","type":"quantitative","axis":null},"y2":{"field":"l"}}},
    {"data":{"name":"sig"},"transform":[{"filter":"datum.p==='G'"}],"mark":{"type":"rule","color":"#222","strokeWidth":1},
     "encoding":{"x":{"field":"x2","type":"quantitative","axis":null},"y":{"field":"top","type":"quantitative","axis":null},"y2":{"field":"r"}}},
    {"data":{"name":"sig"},"transform":[{"filter":"datum.p==='G'"}],"mark":{"type":"text","fontSize":16,"fontWeight":"bold","baseline":"alphabetic","dx":18.75,"dy":5},
     "encoding":{"x":{"field":"x1","type":"quantitative","axis":null},"y":{"field":"top","type":"quantitative","axis":null},"text":{"field":"s"}}},
    {"data":{"name":"cats"},"transform":[{"filter":"datum.p==='G'"}],"mark":{"type":"text","baseline":"alphabetic","dy":14.7,"fontSize":10.2},
     "encoding":{"x":{"field":"pos","type":"quantitative","axis":null},"y":{"datum":0,"axis":null},"text":{"field":"a"}}},
    {"data":{"name":"cats"},"transform":[{"filter":"datum.p==='G'"}],"mark":{"type":"rule","color":"#333","strokeWidth":1,"xOffset":-10,"x2Offset":11.5},
     "encoding":{"x":{"aggregate":"min","field":"pos","type":"quantitative","axis":null},"x2":{"aggregate":"max","field":"pos"},"y":{"datum":-20.9,"axis":null},"detail":{"field":"g"}}},
    {"data":{"name":"cats"},"transform":[{"filter":"datum.p==='G'"}],"mark":{"type":"text","baseline":"alphabetic","dy":32.3},
     "encoding":{"x":{"aggregate":"mean","field":"pos","type":"quantitative","axis":null},"y":{"datum":0,"axis":null},"text":{"field":"g"}}},
    {"data":{"values":[{"letter":"G"}]},"mark":{"type":"text","fontSize":15,"fontWeight":"bold","align":"left","baseline":"alphabetic","dx":-53,"dy":-7.7},
     "encoding":{"x":{"datum":0.27,"axis":null},"y":{"datum":120,"axis":null},"text":{"field":"letter"}}},
    {"data":{"values":[{"t":"A549"}]},"mark":{"type":"text","fontSize":14,"baseline":"alphabetic","dy":-7.7},
     "encoding":{"x":{"datum":2.33,"axis":null},"y":{"datum":120,"axis":null},"text":{"field":"t"}}}
   ]},
  {"width":152,"height":109,"resolve":{"axis":{"x":"independent","y":"independent"}},
   "layer":[
    {"data":{"name":"pts"},"transform":[{"filter":"datum.p==='H'"}],"mark":{"type":"point","shape":"circle","size":36,"stroke":"#000","strokeWidth":1.1,"opacity":1},
     "encoding":{"x":{"field":"x","type":"quantitative","scale":{"domain":[0.27,4.323],"nice":false,"zero":false},"axis":{"title":null,"labels":false,"values":[1,2,3,4]}},
      "y":{"field":"v","type":"quantitative","scale":{"domain":[0,120],"nice":false},"axis":{"title":"Percentage viability","values":[0,20,40,60,80,100,120]}},
      "fill":{"condition":{"test":"datum.a==='Ctrl'||datum.a==='siCtrl'","value":"#fff"},"value":"#000"}}},
    {"data":{"name":"pts"},"transform":[{"filter":"datum.p==='H'"}],"mark":{"type":"errorbar","extent":"stderr","orient":"vertical","color":"#000","ticks":{"size":11,"thickness":1.2},"rule":{"strokeWidth":1.2}},
     "encoding":{"x":{"field":"pos","type":"quantitative","axis":null},"y":{"field":"v","type":"quantitative","axis":null}}},
    {"data":{"name":"pts"},"transform":[{"filter":"datum.p==='H'"}],"mark":{"type":"tick","orient":"horizontal","size":23,"thickness":1.5,"color":"#000"},
     "encoding":{"x":{"field":"pos","type":"quantitative","axis":null},"y":{"aggregate":"mean","field":"v","type":"quantitative","axis":null}}},
    {"data":{"name":"sig"},"transform":[{"filter":"datum.p==='H'"}],"mark":{"type":"rule","color":"#222","strokeWidth":1},
     "encoding":{"x":{"field":"x1","type":"quantitative","axis":null},"x2":{"field":"x2"},"y":{"field":"top","type":"quantitative","axis":null}}},
    {"data":{"name":"sig"},"transform":[{"filter":"datum.p==='H'"}],"mark":{"type":"rule","color":"#222","strokeWidth":1},
     "encoding":{"x":{"field":"x1","type":"quantitative","axis":null},"y":{"field":"top","type":"quantitative","axis":null},"y2":{"field":"l"}}},
    {"data":{"name":"sig"},"transform":[{"filter":"datum.p==='H'"}],"mark":{"type":"rule","color":"#222","strokeWidth":1},
     "encoding":{"x":{"field":"x2","type":"quantitative","axis":null},"y":{"field":"top","type":"quantitative","axis":null},"y2":{"field":"r"}}},
    {"data":{"name":"sig"},"transform":[{"filter":"datum.p==='H'"}],"mark":{"type":"text","fontSize":16,"fontWeight":"bold","baseline":"alphabetic","dx":18.75,"dy":5},
     "encoding":{"x":{"field":"x1","type":"quantitative","axis":null},"y":{"field":"top","type":"quantitative","axis":null},"text":{"field":"s"}}},
    {"data":{"name":"cats"},"transform":[{"filter":"datum.p==='H'"}],"mark":{"type":"text","baseline":"alphabetic","dy":14.7,"fontSize":10.2},
     "encoding":{"x":{"field":"pos","type":"quantitative","axis":null},"y":{"datum":0,"axis":null},"text":{"field":"a"}}},
    {"data":{"name":"cats"},"transform":[{"filter":"datum.p==='H'"}],"mark":{"type":"rule","color":"#333","strokeWidth":1,"xOffset":-10,"x2Offset":11.5},
     "encoding":{"x":{"aggregate":"min","field":"pos","type":"quantitative","axis":null},"x2":{"aggregate":"max","field":"pos"},"y":{"datum":-20.9,"axis":null},"detail":{"field":"g"}}},
    {"data":{"name":"cats"},"transform":[{"filter":"datum.p==='H'"}],"mark":{"type":"text","baseline":"alphabetic","dy":32.3},
     "encoding":{"x":{"aggregate":"mean","field":"pos","type":"quantitative","axis":null},"y":{"datum":0,"axis":null},"text":{"field":"g"}}},
    {"data":{"values":[{"letter":"H"}]},"mark":{"type":"text","fontSize":15,"fontWeight":"bold","align":"left","baseline":"alphabetic","dx":-53,"dy":-8.7},
     "encoding":{"x":{"datum":0.27,"axis":null},"y":{"datum":120,"axis":null},"text":{"field":"letter"}}},
    {"data":{"values":[{"t":"H441"}]},"mark":{"type":"text","fontSize":14,"baseline":"alphabetic","dy":-8.7},
     "encoding":{"x":{"datum":2.33,"axis":null},"y":{"datum":120,"axis":null},"text":{"field":"t"}}}
   ]},
  {"width":152,"height":109,"resolve":{"axis":{"x":"independent","y":"independent"}},
   "layer":[
    {"data":{"name":"pts"},"transform":[{"filter":"datum.p==='I'"}],"mark":{"type":"point","shape":"circle","size":36,"stroke":"#000","strokeWidth":1.1,"opacity":1},
     "encoding":{"x":{"field":"x","type":"quantitative","scale":{"domain":[0.27,4.323],"nice":false,"zero":false},"axis":{"title":null,"labels":false,"values":[1,2,3,4]}},
      "y":{"field":"v","type":"quantitative","scale":{"domain":[0,120],"nice":false},"axis":{"title":"Percentage viability","values":[0,20,40,60,80,100,120]}},
      "fill":{"condition":{"test":"datum.a==='Ctrl'||datum.a==='siCtrl'","value":"#fff"},"value":"#000"}}},
    {"data":{"name":"pts"},"transform":[{"filter":"datum.p==='I'"}],"mark":{"type":"errorbar","extent":"stderr","orient":"vertical","color":"#000","ticks":{"size":11,"thickness":1.2},"rule":{"strokeWidth":1.2}},
     "encoding":{"x":{"field":"pos","type":"quantitative","axis":null},"y":{"field":"v","type":"quantitative","axis":null}}},
    {"data":{"name":"pts"},"transform":[{"filter":"datum.p==='I'"}],"mark":{"type":"tick","orient":"horizontal","size":23,"thickness":1.5,"color":"#000"},
     "encoding":{"x":{"field":"pos","type":"quantitative","axis":null},"y":{"aggregate":"mean","field":"v","type":"quantitative","axis":null}}},
    {"data":{"name":"sig"},"transform":[{"filter":"datum.p==='I'"}],"mark":{"type":"rule","color":"#222","strokeWidth":1},
     "encoding":{"x":{"field":"x1","type":"quantitative","axis":null},"x2":{"field":"x2"},"y":{"field":"top","type":"quantitative","axis":null}}},
    {"data":{"name":"sig"},"transform":[{"filter":"datum.p==='I'"}],"mark":{"type":"rule","color":"#222","strokeWidth":1},
     "encoding":{"x":{"field":"x1","type":"quantitative","axis":null},"y":{"field":"top","type":"quantitative","axis":null},"y2":{"field":"l"}}},
    {"data":{"name":"sig"},"transform":[{"filter":"datum.p==='I'"}],"mark":{"type":"rule","color":"#222","strokeWidth":1},
     "encoding":{"x":{"field":"x2","type":"quantitative","axis":null},"y":{"field":"top","type":"quantitative","axis":null},"y2":{"field":"r"}}},
    {"data":{"name":"sig"},"transform":[{"filter":"datum.p==='I'"}],"mark":{"type":"text","fontSize":16,"fontWeight":"bold","baseline":"alphabetic","dx":18.75,"dy":5},
     "encoding":{"x":{"field":"x1","type":"quantitative","axis":null},"y":{"field":"top","type":"quantitative","axis":null},"text":{"field":"s"}}},
    {"data":{"name":"cats"},"transform":[{"filter":"datum.p==='I'"}],"mark":{"type":"text","baseline":"alphabetic","dy":14.7,"fontSize":10.2},
     "encoding":{"x":{"field":"pos","type":"quantitative","axis":null},"y":{"datum":0,"axis":null},"text":{"field":"a"}}},
    {"data":{"name":"cats"},"transform":[{"filter":"datum.p==='I'"}],"mark":{"type":"rule","color":"#333","strokeWidth":1,"xOffset":-10,"x2Offset":11.5},
     "encoding":{"x":{"aggregate":"min","field":"pos","type":"quantitative","axis":null},"x2":{"aggregate":"max","field":"pos"},"y":{"datum":-20.9,"axis":null},"detail":{"field":"g"}}},
    {"data":{"name":"cats"},"transform":[{"filter":"datum.p==='I'"}],"mark":{"type":"text","baseline":"alphabetic","dy":32.3},
     "encoding":{"x":{"aggregate":"mean","field":"pos","type":"quantitative","axis":null},"y":{"datum":0,"axis":null},"text":{"field":"g"}}},
    {"data":{"values":[{"letter":"I"}]},"mark":{"type":"text","fontSize":15,"fontWeight":"bold","align":"left","baseline":"alphabetic","dx":-53,"dy":-7.7},
     "encoding":{"x":{"datum":0.27,"axis":null},"y":{"datum":120,"axis":null},"text":{"field":"letter"}}},
    {"data":{"values":[{"t":"H441"}]},"mark":{"type":"text","fontSize":14,"baseline":"alphabetic","dy":-8.7},
     "encoding":{"x":{"datum":2.33,"axis":null},"y":{"datum":120,"axis":null},"text":{"field":"t"}}}
   ]},
  {"width":152,"height":109,"resolve":{"axis":{"x":"independent","y":"independent"}},
   "layer":[
    {"data":{"name":"pts"},"transform":[{"filter":"datum.p==='J'"}],"mark":{"type":"point","shape":"circle","size":36,"stroke":"#000","strokeWidth":1.1,"opacity":1},
     "encoding":{"x":{"field":"x","type":"quantitative","scale":{"domain":[0.27,4.323],"nice":false,"zero":false},"axis":{"title":null,"labels":false,"values":[1,2,3,4]}},
      "y":{"field":"v","type":"quantitative","scale":{"domain":[0,120],"nice":false},"axis":{"title":"Percentage viability","values":[0,20,40,60,80,100,120]}},
      "fill":{"condition":{"test":"datum.a==='Ctrl'||datum.a==='siCtrl'","value":"#fff"},"value":"#000"}}},
    {"data":{"name":"pts"},"transform":[{"filter":"datum.p==='J'"}],"mark":{"type":"errorbar","extent":"stderr","orient":"vertical","color":"#000","ticks":{"size":11,"thickness":1.2},"rule":{"strokeWidth":1.2}},
     "encoding":{"x":{"field":"pos","type":"quantitative","axis":null},"y":{"field":"v","type":"quantitative","axis":null}}},
    {"data":{"name":"pts"},"transform":[{"filter":"datum.p==='J'"}],"mark":{"type":"tick","orient":"horizontal","size":23,"thickness":1.5,"color":"#000"},
     "encoding":{"x":{"field":"pos","type":"quantitative","axis":null},"y":{"aggregate":"mean","field":"v","type":"quantitative","axis":null}}},
    {"data":{"name":"sig"},"transform":[{"filter":"datum.p==='J'"}],"mark":{"type":"rule","color":"#222","strokeWidth":1},
     "encoding":{"x":{"field":"x1","type":"quantitative","axis":null},"x2":{"field":"x2"},"y":{"field":"top","type":"quantitative","axis":null}}},
    {"data":{"name":"sig"},"transform":[{"filter":"datum.p==='J'"}],"mark":{"type":"rule","color":"#222","strokeWidth":1},
     "encoding":{"x":{"field":"x1","type":"quantitative","axis":null},"y":{"field":"top","type":"quantitative","axis":null},"y2":{"field":"l"}}},
    {"data":{"name":"sig"},"transform":[{"filter":"datum.p==='J'"}],"mark":{"type":"rule","color":"#222","strokeWidth":1},
     "encoding":{"x":{"field":"x2","type":"quantitative","axis":null},"y":{"field":"top","type":"quantitative","axis":null},"y2":{"field":"r"}}},
    {"data":{"name":"sig"},"transform":[{"filter":"datum.p==='J'"}],"mark":{"type":"text","fontSize":16,"fontWeight":"bold","baseline":"alphabetic","dx":18.75,"dy":5},
     "encoding":{"x":{"field":"x1","type":"quantitative","axis":null},"y":{"field":"top","type":"quantitative","axis":null},"text":{"field":"s"}}},
    {"data":{"name":"cats"},"transform":[{"filter":"datum.p==='J'"}],"mark":{"type":"text","baseline":"alphabetic","dy":14,"fontSize":10.2},
     "encoding":{"x":{"field":"pos","type":"quantitative","axis":null},"y":{"datum":0,"axis":null},"text":{"field":"a"}}},
    {"data":{"name":"cats"},"transform":[{"filter":"datum.p==='J'"}],"mark":{"type":"rule","color":"#333","strokeWidth":1,"xOffset":-10,"x2Offset":11.5},
     "encoding":{"x":{"aggregate":"min","field":"pos","type":"quantitative","axis":null},"x2":{"aggregate":"max","field":"pos"},"y":{"datum":-20.2,"axis":null},"detail":{"field":"g"}}},
    {"data":{"name":"cats"},"transform":[{"filter":"datum.p==='J'"}],"mark":{"type":"text","baseline":"alphabetic","dy":32.3},
     "encoding":{"x":{"aggregate":"mean","field":"pos","type":"quantitative","axis":null},"y":{"datum":0,"axis":null},"text":{"field":"g"}}},
    {"data":{"values":[{"letter":"J"}]},"mark":{"type":"text","fontSize":15,"fontWeight":"bold","align":"left","baseline":"alphabetic","dx":-53,"dy":-6.3},
     "encoding":{"x":{"datum":0.27,"axis":null},"y":{"datum":120,"axis":null},"text":{"field":"letter"}}},
    {"data":{"values":[{"t":"A549"}]},"mark":{"type":"text","fontSize":14,"baseline":"alphabetic","dy":-7.3},
     "encoding":{"x":{"datum":2.33,"axis":null},"y":{"datum":120,"axis":null},"text":{"field":"t"}}}
   ]},
  {"width":152,"height":109,"resolve":{"axis":{"x":"independent","y":"independent"}},
   "layer":[
    {"data":{"name":"pts"},"transform":[{"filter":"datum.p==='K'"}],"mark":{"type":"point","shape":"circle","size":36,"stroke":"#000","strokeWidth":1.1,"opacity":1},
     "encoding":{"x":{"field":"x","type":"quantitative","scale":{"domain":[0.27,4.323],"nice":false,"zero":false},"axis":{"title":null,"labels":false,"values":[1,2,3,4]}},
      "y":{"field":"v","type":"quantitative","scale":{"domain":[0,120],"nice":false},"axis":{"title":"Percentage viability","values":[0,20,40,60,80,100,120]}},
      "fill":{"condition":{"test":"datum.a==='Ctrl'||datum.a==='siCtrl'","value":"#fff"},"value":"#000"}}},
    {"data":{"name":"pts"},"transform":[{"filter":"datum.p==='K'"}],"mark":{"type":"errorbar","extent":"stderr","orient":"vertical","color":"#000","ticks":{"size":11,"thickness":1.2},"rule":{"strokeWidth":1.2}},
     "encoding":{"x":{"field":"pos","type":"quantitative","axis":null},"y":{"field":"v","type":"quantitative","axis":null}}},
    {"data":{"name":"pts"},"transform":[{"filter":"datum.p==='K'"}],"mark":{"type":"tick","orient":"horizontal","size":23,"thickness":1.5,"color":"#000"},
     "encoding":{"x":{"field":"pos","type":"quantitative","axis":null},"y":{"aggregate":"mean","field":"v","type":"quantitative","axis":null}}},
    {"data":{"name":"sig"},"transform":[{"filter":"datum.p==='K'"}],"mark":{"type":"rule","color":"#222","strokeWidth":1},
     "encoding":{"x":{"field":"x1","type":"quantitative","axis":null},"x2":{"field":"x2"},"y":{"field":"top","type":"quantitative","axis":null}}},
    {"data":{"name":"sig"},"transform":[{"filter":"datum.p==='K'"}],"mark":{"type":"rule","color":"#222","strokeWidth":1},
     "encoding":{"x":{"field":"x1","type":"quantitative","axis":null},"y":{"field":"top","type":"quantitative","axis":null},"y2":{"field":"l"}}},
    {"data":{"name":"sig"},"transform":[{"filter":"datum.p==='K'"}],"mark":{"type":"rule","color":"#222","strokeWidth":1},
     "encoding":{"x":{"field":"x2","type":"quantitative","axis":null},"y":{"field":"top","type":"quantitative","axis":null},"y2":{"field":"r"}}},
    {"data":{"name":"sig"},"transform":[{"filter":"datum.p==='K'"}],"mark":{"type":"text","fontSize":16,"fontWeight":"bold","baseline":"alphabetic","dx":18.75,"dy":5},
     "encoding":{"x":{"field":"x1","type":"quantitative","axis":null},"y":{"field":"top","type":"quantitative","axis":null},"text":{"field":"s"}}},
    {"data":{"name":"cats"},"transform":[{"filter":"datum.p==='K'"}],"mark":{"type":"text","baseline":"alphabetic","dy":14,"fontSize":10.2},
     "encoding":{"x":{"field":"pos","type":"quantitative","axis":null},"y":{"datum":0,"axis":null},"text":{"field":"a"}}},
    {"data":{"name":"cats"},"transform":[{"filter":"datum.p==='K'"}],"mark":{"type":"rule","color":"#333","strokeWidth":1,"xOffset":-10,"x2Offset":11.5},
     "encoding":{"x":{"aggregate":"min","field":"pos","type":"quantitative","axis":null},"x2":{"aggregate":"max","field":"pos"},"y":{"datum":-20.2,"axis":null},"detail":{"field":"g"}}},
    {"data":{"name":"cats"},"transform":[{"filter":"datum.p==='K'"}],"mark":{"type":"text","baseline":"alphabetic","dy":32.3},
     "encoding":{"x":{"aggregate":"mean","field":"pos","type":"quantitative","axis":null},"y":{"datum":0,"axis":null},"text":{"field":"g"}}},
    {"data":{"values":[{"letter":"K"}]},"mark":{"type":"text","fontSize":15,"fontWeight":"bold","align":"left","baseline":"alphabetic","dx":-53,"dy":-6.3},
     "encoding":{"x":{"datum":0.27,"axis":null},"y":{"datum":120,"axis":null},"text":{"field":"letter"}}},
    {"data":{"values":[{"t":"A549"}]},"mark":{"type":"text","fontSize":14,"baseline":"alphabetic","dy":-7.3},
     "encoding":{"x":{"datum":2.33,"axis":null},"y":{"datum":120,"axis":null},"text":{"field":"t"}}}
   ]},
  {"width":166,"height":109,"resolve":{"axis":{"x":"independent","y":"independent"}},
   "layer":[
    {"data":{"name":"pts"},"transform":[{"filter":"datum.p==='L'"}],"mark":{"type":"point","shape":"circle","size":36,"stroke":"#000","strokeWidth":1.1,"opacity":1},
     "encoding":{"x":{"field":"x","type":"quantitative","scale":{"domain":[0.27,4.697],"nice":false,"zero":false},"axis":{"title":null,"labels":false,"values":[1,2,3,4]}},
      "y":{"field":"v","type":"quantitative","scale":{"domain":[0,120],"nice":false},"axis":{"title":["Percentage","colony formation"],"values":[0,20,40,60,80,100,120]}},
      "fill":{"condition":{"test":"datum.a==='Ctrl'||datum.a==='siCtrl'","value":"#fff"},"value":"#000"}}},
    {"data":{"name":"pts"},"transform":[{"filter":"datum.p==='L'"}],"mark":{"type":"errorbar","extent":"stderr","orient":"vertical","color":"#000","ticks":{"size":11,"thickness":1.2},"rule":{"strokeWidth":1.2}},
     "encoding":{"x":{"field":"pos","type":"quantitative","axis":null},"y":{"field":"v","type":"quantitative","axis":null}}},
    {"data":{"name":"pts"},"transform":[{"filter":"datum.p==='L'"}],"mark":{"type":"tick","orient":"horizontal","size":25,"thickness":1.5,"color":"#000"},
     "encoding":{"x":{"field":"pos","type":"quantitative","axis":null},"y":{"aggregate":"mean","field":"v","type":"quantitative","axis":null}}},
    {"data":{"name":"sig"},"transform":[{"filter":"datum.p==='L'"}],"mark":{"type":"rule","color":"#222","strokeWidth":1},
     "encoding":{"x":{"field":"x1","type":"quantitative","axis":null},"x2":{"field":"x2"},"y":{"field":"top","type":"quantitative","axis":null}}},
    {"data":{"name":"sig"},"transform":[{"filter":"datum.p==='L'"}],"mark":{"type":"rule","color":"#222","strokeWidth":1},
     "encoding":{"x":{"field":"x1","type":"quantitative","axis":null},"y":{"field":"top","type":"quantitative","axis":null},"y2":{"field":"l"}}},
    {"data":{"name":"sig"},"transform":[{"filter":"datum.p==='L'"}],"mark":{"type":"rule","color":"#222","strokeWidth":1},
     "encoding":{"x":{"field":"x2","type":"quantitative","axis":null},"y":{"field":"top","type":"quantitative","axis":null},"y2":{"field":"r"}}},
    {"data":{"name":"sig"},"transform":[{"filter":"datum.p==='L'"}],"mark":{"type":"text","fontSize":16,"fontWeight":"bold","baseline":"alphabetic","dx":18.75,"dy":5},
     "encoding":{"x":{"field":"x1","type":"quantitative","axis":null},"y":{"field":"top","type":"quantitative","axis":null},"text":{"field":"s"}}},
    {"data":{"name":"cats"},"transform":[{"filter":"datum.p==='L'"}],"mark":{"type":"text","baseline":"alphabetic","dy":14,"fontSize":10.2},
     "encoding":{"x":{"field":"pos","type":"quantitative","axis":null},"y":{"datum":0,"axis":null},"text":{"field":"a"}}},
    {"data":{"name":"cats"},"transform":[{"filter":"datum.p==='L'"}],"mark":{"type":"rule","color":"#333","strokeWidth":1,"xOffset":-10,"x2Offset":11.5},
     "encoding":{"x":{"aggregate":"min","field":"pos","type":"quantitative","axis":null},"x2":{"aggregate":"max","field":"pos"},"y":{"datum":-19.8,"axis":null},"detail":{"field":"g"}}},
    {"data":{"name":"cats"},"transform":[{"filter":"datum.p==='L'"}],"mark":{"type":"text","baseline":"alphabetic","dy":31.7},
     "encoding":{"x":{"aggregate":"mean","field":"pos","type":"quantitative","axis":null},"y":{"datum":0,"axis":null},"text":{"field":"g"}}},
    {"data":{"values":[{"letter":"L"}]},"mark":{"type":"text","fontSize":15,"fontWeight":"bold","align":"left","baseline":"alphabetic","dx":-53,"dy":-9.7},
     "encoding":{"x":{"datum":0.27,"axis":null},"y":{"datum":120,"axis":null},"text":{"field":"letter"}}},
    {"data":{"values":[{"t":"A549"}]},"mark":{"type":"text","fontSize":14,"baseline":"alphabetic","dy":-9.7},
     "encoding":{"x":{"datum":2.38,"axis":null},"y":{"datum":120,"axis":null},"text":{"field":"t"}}}
   ]},
  {"width":152,"height":111,"resolve":{"axis":{"x":"independent","y":"independent"}},
   "layer":[
    {"data":{"name":"pts"},"transform":[{"filter":"datum.p==='M'"}],"mark":{"type":"point","shape":"circle","size":36,"stroke":"#000","strokeWidth":1.1,"opacity":1},
     "encoding":{"x":{"field":"x","type":"quantitative","scale":{"domain":[0.27,4.777],"nice":false,"zero":false,"range":[0,169]},"axis":{"title":null,"labels":false,"values":[1,2,3,4]}},
      "y":{"field":"v","type":"quantitative","scale":{"domain":[0,120],"nice":false},"axis":{"title":["Percentage","colony formation"],"values":[0,20,40,60,80,100,120]}},
      "fill":{"condition":{"test":"datum.a==='Ctrl'||datum.a==='siCtrl'","value":"#fff"},"value":"#000"}}},
    {"data":{"name":"pts"},"transform":[{"filter":"datum.p==='M'"}],"mark":{"type":"errorbar","extent":"stderr","orient":"vertical","color":"#000","ticks":{"size":11,"thickness":1.2},"rule":{"strokeWidth":1.2}},
     "encoding":{"x":{"field":"pos","type":"quantitative","axis":null},"y":{"field":"v","type":"quantitative","axis":null}}},
    {"data":{"name":"pts"},"transform":[{"filter":"datum.p==='M'"}],"mark":{"type":"tick","orient":"horizontal","size":25,"thickness":1.5,"color":"#000"},
     "encoding":{"x":{"field":"pos","type":"quantitative","axis":null},"y":{"aggregate":"mean","field":"v","type":"quantitative","axis":null}}},
    {"data":{"name":"sig"},"transform":[{"filter":"datum.p==='M'"}],"mark":{"type":"rule","color":"#222","strokeWidth":1},
     "encoding":{"x":{"field":"x1","type":"quantitative","axis":null},"x2":{"field":"x2"},"y":{"field":"top","type":"quantitative","axis":null}}},
    {"data":{"name":"sig"},"transform":[{"filter":"datum.p==='M'"}],"mark":{"type":"rule","color":"#222","strokeWidth":1},
     "encoding":{"x":{"field":"x1","type":"quantitative","axis":null},"y":{"field":"top","type":"quantitative","axis":null},"y2":{"field":"l"}}},
    {"data":{"name":"sig"},"transform":[{"filter":"datum.p==='M'"}],"mark":{"type":"rule","color":"#222","strokeWidth":1},
     "encoding":{"x":{"field":"x2","type":"quantitative","axis":null},"y":{"field":"top","type":"quantitative","axis":null},"y2":{"field":"r"}}},
    {"data":{"name":"sig"},"transform":[{"filter":"datum.p==='M'"}],"mark":{"type":"text","fontSize":16,"fontWeight":"bold","baseline":"alphabetic","dx":18.75,"dy":5},
     "encoding":{"x":{"field":"x1","type":"quantitative","axis":null},"y":{"field":"top","type":"quantitative","axis":null},"text":{"field":"s"}}},
    {"data":{"name":"cats"},"transform":[{"filter":"datum.p==='M'"}],"mark":{"type":"text","baseline":"alphabetic","dy":12.5,"fontSize":10.2},
     "encoding":{"x":{"field":"pos","type":"quantitative","axis":null},"y":{"datum":0,"axis":null},"text":{"field":"a"}}},
    {"data":{"name":"cats"},"transform":[{"filter":"datum.p==='M'"}],"mark":{"type":"rule","color":"#333","strokeWidth":1,"xOffset":-10,"x2Offset":12},
     "encoding":{"x":{"aggregate":"min","field":"pos","type":"quantitative","axis":null},"x2":{"aggregate":"max","field":"pos"},"y":{"datum":-16.2,"axis":null},"detail":{"field":"g"}}},
    {"data":{"name":"cats"},"transform":[{"filter":"datum.p==='M'"}],"mark":{"type":"text","baseline":"alphabetic","dy":29},
     "encoding":{"x":{"aggregate":"mean","field":"pos","type":"quantitative","axis":null},"y":{"datum":0,"axis":null},"text":{"field":"g"}}},
    {"data":{"values":[{"letter":"M"}]},"mark":{"type":"text","fontSize":15,"fontWeight":"bold","align":"left","baseline":"alphabetic","dx":-53,"dy":-7.3},
     "encoding":{"x":{"datum":0.27,"axis":null},"y":{"datum":120,"axis":null},"text":{"field":"letter"}}},
    {"data":{"values":[{"t":"H441"}]},"mark":{"type":"text","fontSize":14,"baseline":"alphabetic","dy":-5.7},
     "encoding":{"x":{"datum":2.51,"axis":null},"y":{"datum":120,"axis":null},"text":{"field":"t"}}}
   ]}
 ],"columns":3,"spacing":{"row":72,"column":88},"bounds":"flush","align":"each"}
]
}
